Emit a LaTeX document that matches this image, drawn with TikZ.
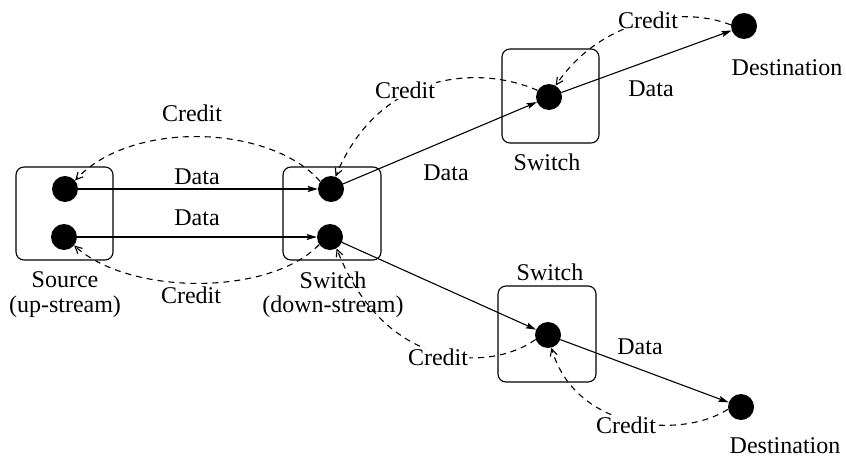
\documentclass[tikz,border=0pt]{standalone}
\usepackage{fontspec}
\setmainfont{Liberation Serif}
\usetikzlibrary{arrows.meta}
\begin{document}
\begin{tikzpicture}[x=1pt,y=-1pt,
  every node/.style={font=\fontsize{24}{27}\selectfont},
  dot/.style={circle,fill=black,minimum size=26pt,inner sep=0pt},
  swbox/.style={draw,rounded corners=8pt,line width=1.1pt,inner sep=0pt},
  data/.style={line width=1.1pt,-{Stealth[length=10pt,width=6pt,inset=1.5pt]}},
  credit/.style={line width=1.1pt,dash pattern=on 6pt off 5pt,-{Straight Barb[length=7pt,width=7pt]}},
  lbl/.style={inner sep=1pt},
  onlbl/.style={fill=white,inner sep=1pt}]
\useasboundingbox (0,0) rectangle (846,458);
% boxes
\node[swbox,minimum width=97pt,minimum height=93pt] (srcbox) at (64.5,213.5) {};
\node[swbox,minimum width=98pt,minimum height=93pt] (swbox) at (332,213.5) {};
\node[swbox,minimum width=97pt,minimum height=94pt] (topbox) at (550.5,96) {};
\node[swbox,minimum width=98pt,minimum height=96pt] (botbox) at (547,334) {};
% dots
\node[dot] (s1) at (65,189) {};
\node[dot] (s2) at (64,237) {};
\node[dot] (w1) at (331,189) {};
\node[dot] (w2) at (330,237) {};
\node[dot] (T) at (549,97) {};
\node[dot] (B) at (548,335) {};
\node[dot] (D1) at (744,26) {};
\node[dot] (D2) at (741,407) {};
% data
\draw[data] (s1) -- (w1);
\draw[data] (s2) -- (w2);
\draw[data] (w1) -- (T);
\draw[data] (T) -- (D1);
\draw[data] (w2) -- (B);
\draw[data] (B) -- (D2);
% credit
\draw[credit] (w1.145) .. controls (270,124) and (130,120) .. (s1.40);
\draw[credit] (w2.215) .. controls (270,296) and (130,296) .. (s2.-40);
\draw[credit] (T.150) .. controls (480,65) and (380,70) .. (w1.70);
\draw[credit] (D1.175) .. controls (680,5) and (600,20) .. (T.60);
\draw[credit] (B.200) .. controls (490,372) and (385,372) .. (w2.-60);
\draw[credit] (D2.190) .. controls (680,440) and (575,430) .. (B.-75);
% labels
\node[lbl] (ld1) at (197,177) {Data};
\node[lbl] (ld2) at (197,218) {Data};
\node[lbl] (ld3) at (446,173) {Data};
\node[lbl] (ld4) at (651,89) {Data};
\node[lbl] (ld5) at (640,347) {Data};
\node[lbl] (lc1) at (192,113) {Credit};
\node[lbl] (lc2) at (191,295) {Credit};
\node[onlbl] (lc3) at (405,90) {Credit};
\node[onlbl] (lc4) at (648,20) {Credit};
\node[onlbl] (lc5) at (438,357) {Credit};
\node[onlbl] (lc6) at (626,425) {Credit};
\node[lbl] (lsrc) at (65,280) {Source};
\node[lbl] (lsrc2) at (65,307) {(up-stream)};
\node[lbl] (lsw) at (333,280) {Switch};
\node[lbl] (lsw2) at (333,307) {(down-stream)};
\node[lbl] (lsw3) at (547,162) {Switch};
\node[lbl] (lsw4) at (550,272) {Switch};
\node[lbl] (ldst1) at (787,68) {Destination};
\node[lbl] (ldst2) at (785,446) {Destination};
\end{tikzpicture}
\end{document}
